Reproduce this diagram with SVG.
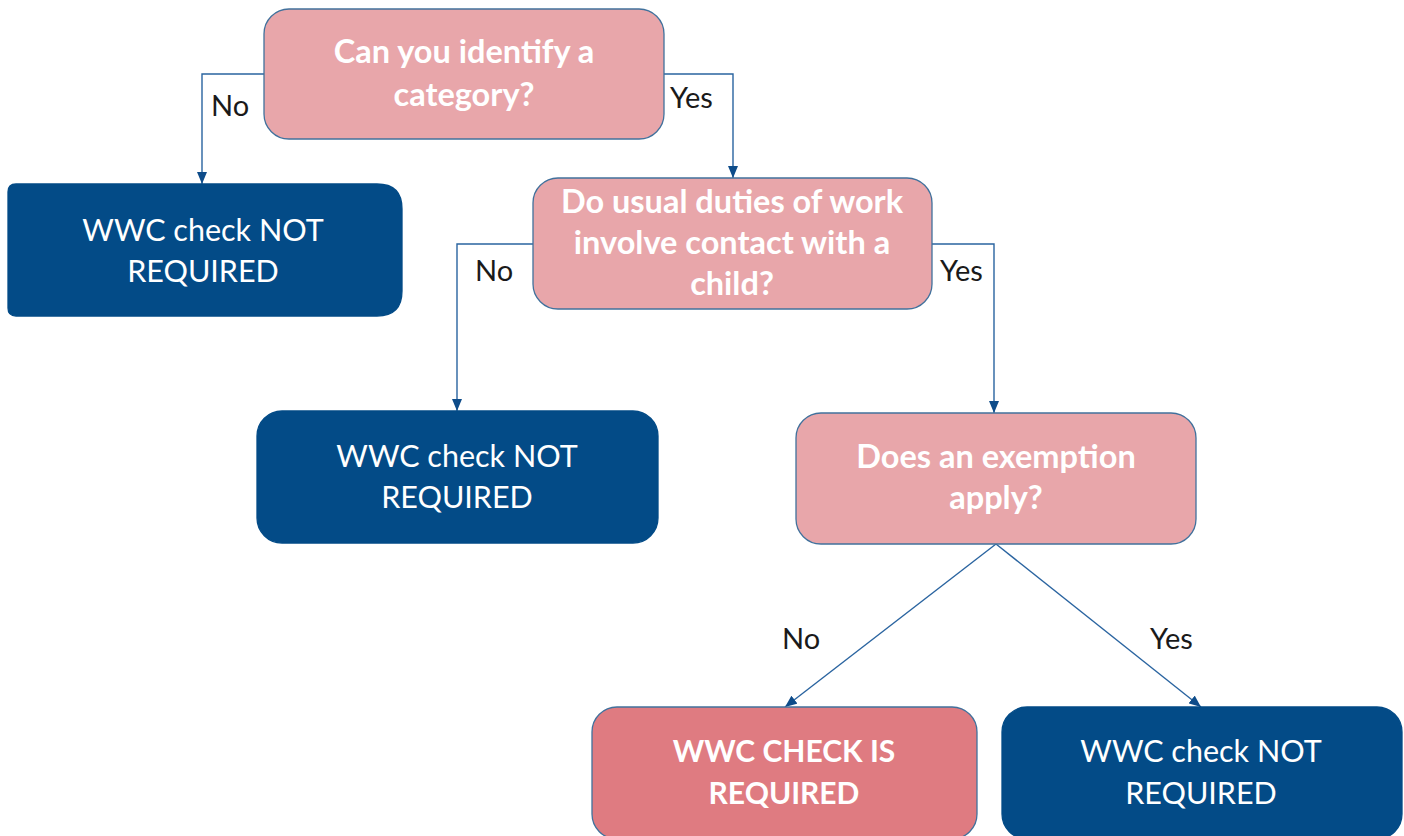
<svg xmlns="http://www.w3.org/2000/svg" width="1404" height="836" viewBox="0 0 1404 836">
  <style>
    .q { fill: #E8A6AA; stroke: #41719C; stroke-width: 1.3; }
    .res { fill: #DF7B81; stroke: #41719C; stroke-width: 1.3; }
    .no { fill: #034B87; stroke: #034B87; stroke-width: 1.3; }
    .qt { font-family: Lato, "Liberation Sans", sans-serif; font-weight: 700; font-size: 32.5px; fill: #FFFFFF; text-anchor: middle; }
    .rt { font-family: Lato, "Liberation Sans", sans-serif; font-weight: 700; font-size: 30px; fill: #FFFFFF; text-anchor: middle; }
    .nt { font-family: Lato, "Liberation Sans", sans-serif; font-weight: 400; font-size: 30.5px; fill: #FFFFFF; text-anchor: middle; }
    .lbl { font-family: Lato, "Liberation Sans", sans-serif; font-size: 29px; fill: #1A1A1A; }
    .conn { fill: none; stroke: #2A64A0; stroke-width: 1.4; }
  </style>
  <defs>
    <marker id="arrow" viewBox="0 0 12 10" refX="12" refY="5" markerWidth="12" markerHeight="10" markerUnits="userSpaceOnUse" orient="auto">
      <path d="M0,0 L12,5 L0,10 Z" fill="#0E4C8A"/>
    </marker>
  </defs>
  <rect width="1404" height="836" fill="#FFFFFF"/>

  <!-- connectors -->
  <g id="connectors">
    <path class="conn" d="M264,74 H202 V184" marker-end="url(#arrow)"/>
    <path class="conn" d="M664,74 H733 V178" marker-end="url(#arrow)"/>
    <path class="conn" d="M533,244 H457 V411" marker-end="url(#arrow)"/>
    <path class="conn" d="M932,244 H994 V413" marker-end="url(#arrow)"/>
    <path class="conn" d="M996,544 L785,707" marker-end="url(#arrow)"/>
    <path class="conn" d="M996,544 L1201,707" marker-end="url(#arrow)"/>
    <text class="lbl" x="211" y="116">No</text>
    <text class="lbl" x="670" y="108">Yes</text>
    <text class="lbl" x="475" y="281">No</text>
    <text class="lbl" x="940" y="281">Yes</text>
    <text class="lbl" x="782" y="649">No</text>
    <text class="lbl" x="1150" y="649">Yes</text>
  </g>

  <!-- question: category -->
  <g id="q-category">
    <rect class="q" x="264" y="9" width="400" height="130" rx="25"/>
    <text class="qt" x="464" y="63">Can you identify a</text>
    <text class="qt" x="464" y="106">category?</text>
  </g>

  <!-- outcome: not required (no category) -->
  <g id="r-no-category">
    <path class="no" d="M8,192 Q8,184 16,184 H377 Q402,184 402,209 V291 Q402,316 377,316 H16 Q8,316 8,308 Z"/>
    <text class="nt" x="203" y="241">WWC check NOT</text>
    <text class="nt" x="203" y="282">REQUIRED</text>
  </g>

  <!-- question: usual duties -->
  <g id="q-duties">
    <rect class="q" x="533" y="178" width="399" height="131" rx="25"/>
    <text class="qt" x="732" y="213">Do usual duties of work</text>
    <text class="qt" x="732" y="254">involve contact with a</text>
    <text class="qt" x="732" y="295">child?</text>
  </g>

  <!-- outcome: not required (no contact) -->
  <g id="r-no-contact">
    <rect class="no" x="257" y="411" width="401" height="132" rx="25"/>
    <text class="nt" x="457" y="467">WWC check NOT</text>
    <text class="nt" x="457" y="508">REQUIRED</text>
  </g>

  <!-- question: exemption -->
  <g id="q-exemption">
    <rect class="q" x="796" y="413" width="400" height="131" rx="25"/>
    <text class="qt" x="996" y="468">Does an exemption</text>
    <text class="qt" x="996" y="509">apply?</text>
  </g>

  <!-- outcome: check required -->
  <g id="r-required">
    <rect class="res" x="592" y="707" width="385" height="132" rx="25"/>
    <text class="rt" x="784" y="762">WWC CHECK IS</text>
    <text class="rt" x="784" y="804">REQUIRED</text>
  </g>

  <!-- outcome: not required (exempt) -->
  <g id="r-exempt">
    <rect class="no" x="1002" y="707" width="400" height="132" rx="25"/>
    <text class="nt" x="1201" y="762">WWC check NOT</text>
    <text class="nt" x="1201" y="804">REQUIRED</text>
  </g>
</svg>
